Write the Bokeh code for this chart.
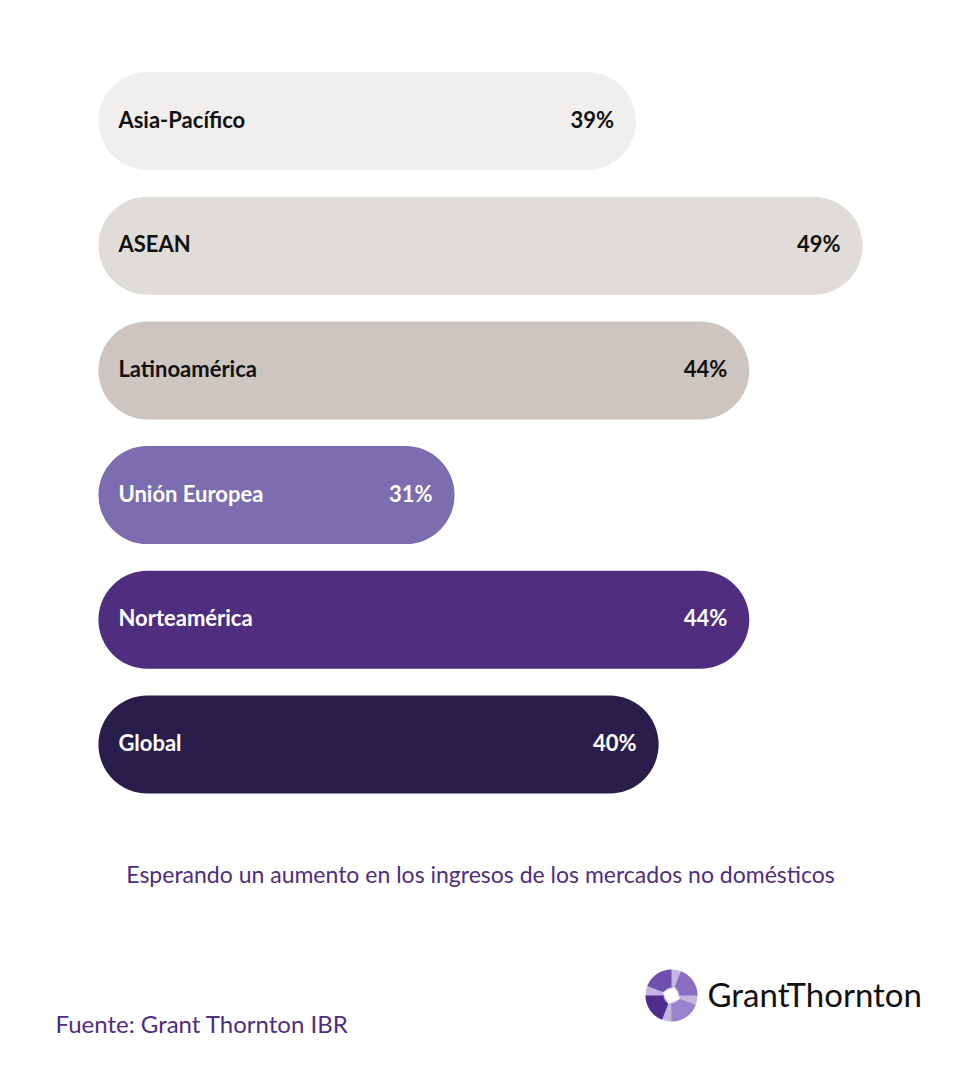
from bokeh.plotting import figure
from bokeh.models import Range1d, ColumnDataSource, Label
from bokeh.core.properties import value
from bokeh.embed import file_html
from bokeh.resources import INLINE

regions = ["Asia-Pacífico", "ASEAN", "Latinoamérica", "Unión Europea", "Norteamérica", "Global"]
pct = [39, 49, 44, 31, 44, 40]
bar_colors = ["#F0EFEE", "#E0DDD8", "#CDC5BF", "#7B6DAF", "#4F2D7F", "#291E4B"]
text_colors = ["#111111", "#111111", "#111111", "#FFFFFF", "#FFFFFF", "#FFFFFF"]
pct_labels = [f"{v}%" for v in pct]
caption = "Esperando un aumento en los ingresos de los mercados no domésticos"
source_txt = "Fuente: Grant Thornton IBR"
brand = "GrantThornton"

W, H = 944, 1064
BASE = 15.29  # value at which the rounded bars visually begin
SX, SY = 22.67, 124.7  # px per unit
X0, Y0 = 248.7 / SX, -120.5 / SY

src = ColumnDataSource(dict(
    y=list(range(len(regions))), region=regions, pct=pct, lab=pct_labels,
    color=bar_colors, tcolor=text_colors, left=[BASE] * len(regions),
))

p = figure(width=W, height=H, output_backend="svg", toolbar_location=None,
           x_range=Range1d(X0, X0 + W / SX), y_range=Range1d(Y0 + H / SY, Y0),
           min_border=0, outline_line_color=None)
p.axis.visible = False
p.grid.visible = False
p.background_fill_color = "white"

p.hbar(y="y", left="left", right="pct", height=0.786, fill_color="color",
       line_color=None, border_radius=49, source=src)

font = value("Lato")
p.text(x="left", y="y", text="region", text_color="tcolor", x_offset=20, y_offset=-2,
       text_align="left", text_baseline="middle", text_font=font,
       text_font_size="22px", text_font_style="bold", source=src)
p.text(x="pct", y="y", text="lab", text_color="tcolor", x_offset=-22, y_offset=-2,
       text_align="right", text_baseline="middle", text_font=font,
       text_font_size="22px", text_font_style="bold", source=src)

p.add_layout(Label(x=480, y=H - 873, x_units="screen", y_units="screen", text=caption,
                   text_align="center", text_baseline="middle", text_font="Lato",
                   text_font_size="23px", text_color="#4F2D7F"))
p.add_layout(Label(x=55, y=H - 1023, x_units="screen", y_units="screen", text=source_txt,
                   text_align="left", text_baseline="middle", text_font="Lato",
                   text_font_size="24px", text_color="#4F2D7F"))
p.add_layout(Label(x=707, y=H - 993, x_units="screen", y_units="screen", text=brand,
                   text_align="left", text_baseline="middle", text_font="Lato",
                   text_font_size="33px", text_color="#111111"))

# logo mark
lx = X0 + 671 / SX
ly = Y0 + 995 / SY
p.scatter(x=[lx], y=[ly], size=52, marker="circle", fill_color="#C4B4E2", line_color=None)
p.annular_wedge(x=[lx] * 4, y=[ly] * 4, inner_radius=8, outer_radius=26,
                inner_radius_units="screen", outer_radius_units="screen",
                start_angle=[0.0, 1.57, 3.14, 4.71], end_angle=[1.2, 2.77, 4.34, 5.91],
                fill_color=["#8A6CC0", "#6E50AE", "#4F2D8F", "#9A82CC"], line_color=None)
p.scatter(x=[lx], y=[ly], size=13, marker="square", angle=0.4, fill_color="white", line_color=None)

open("out.html", "w").write(file_html(p, INLINE))
